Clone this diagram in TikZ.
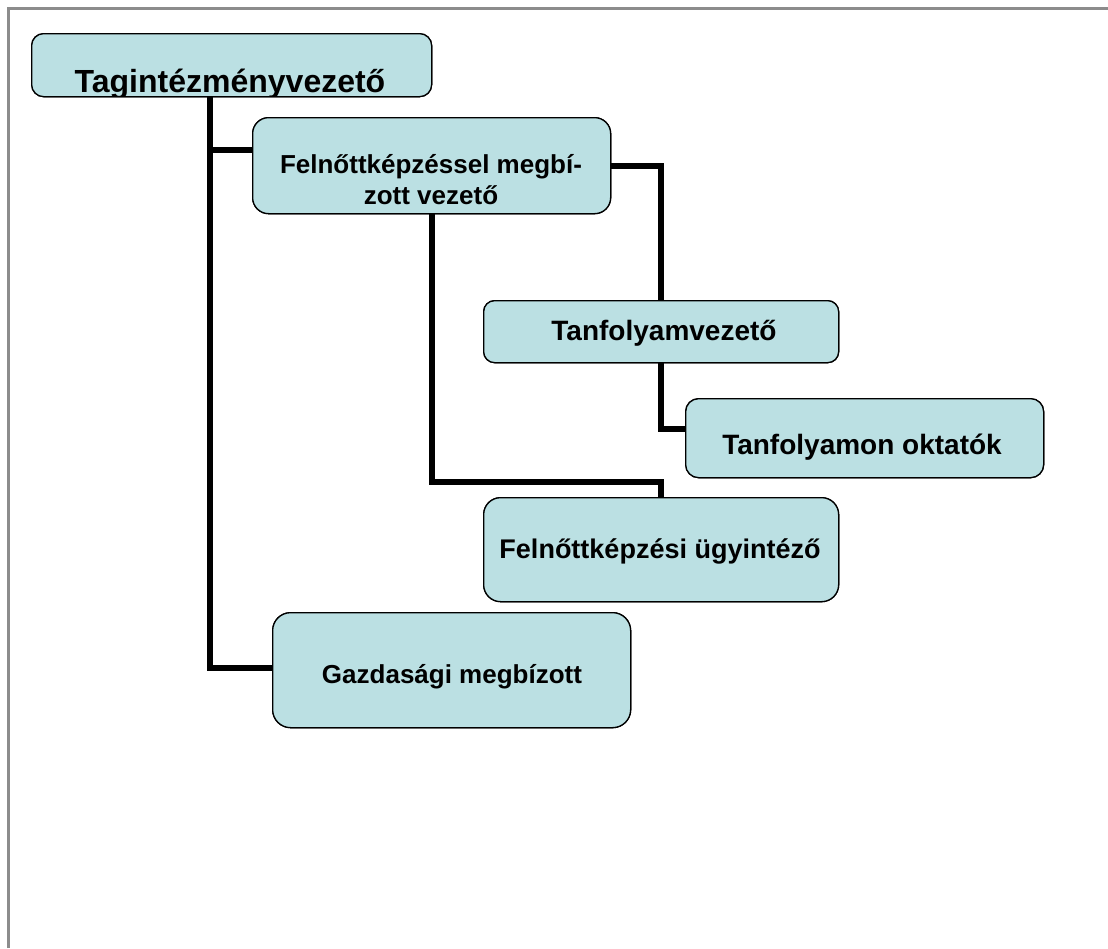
\documentclass[tikz,border=0pt]{standalone}
\usepackage{fontspec}
\setmainfont{Liberation Sans}
\definecolor{boxfill}{RGB}{187,224,227}
\definecolor{framegray}{RGB}{140,140,140}
\begin{document}
\begin{tikzpicture}[x=1pt,y=-1pt,
  box/.style={draw=black,fill=boxfill,line width=1.3pt,inner sep=0pt,anchor=north west},
  conn/.style={draw=black,line width=6pt,line join=miter,line cap=butt},
  lbl/.style={font=\bfseries\fontsize{26}{34}\selectfont,anchor=base,inner sep=0pt},
  lblb/.style={font=\bfseries\fontsize{28}{34}\selectfont,anchor=base,inner sep=0pt}]
\useasboundingbox (0,0) rectangle (1108,948);
\fill[white] (0,0) rectangle (1108,948);
% frame
\coordinate (fa) at (8,948);
\coordinate (fb) at (8,8.7);
\coordinate (fc) at (1108,8.7);
\draw[framegray,line width=3pt] (fa) -- (fb) -- (fc);
% helper coordinates
\coordinate (t) at (210,0);
\coordinate (y150) at (0,150);
\coordinate (y482) at (0,482);
\coordinate (y429) at (0,429);
\coordinate (y668) at (0,668);
% boxes
\path (31,33) node[box,minimum width=400,minimum height=63,rounded corners=12pt] (b1) {};
\path (252,117) node[box,minimum width=358,minimum height=96,rounded corners=16pt] (b2) {};
\path (483,300) node[box,minimum width=355,minimum height=62,rounded corners=11pt] (b3) {};
\path (685,398) node[box,minimum width=358,minimum height=79,rounded corners=13pt] (b4) {};
\path (483,497) node[box,minimum width=355,minimum height=104,rounded corners=17pt] (b5) {};
\path (272,612) node[box,minimum width=358,minimum height=115,rounded corners=18pt] (b6) {};
% connectors
\draw[conn] (t |- b1.south) -- (t |- y668) -- (b6.west |- y668);
\draw[conn] (t |- y150) -- (b2.west |- y150);
\draw[conn] (b2.east) -| (b3.north);
\draw[conn] (b2.south) -- (b2.south |- y482) -| (b5.north);
\draw[conn] (b3.south) -- (b3.south |- y429) -- (b4.west |- y429);
% redraw boxes on top of connector ends
\path (31,33) node[box,minimum width=400,minimum height=63,rounded corners=12pt] {};
\path (252,117) node[box,minimum width=358,minimum height=96,rounded corners=16pt] {};
\path (483,300) node[box,minimum width=355,minimum height=62,rounded corners=11pt] {};
\path (685,398) node[box,minimum width=358,minimum height=79,rounded corners=13pt] {};
\path (483,497) node[box,minimum width=355,minimum height=104,rounded corners=17pt] {};
\path (272,612) node[box,minimum width=358,minimum height=115,rounded corners=18pt] {};
% texts
\begin{scope}
\clip (31,33) rectangle (431,95.5);
\node[anchor=base,inner sep=0pt,font=\bfseries\fontsize{32}{36}\selectfont] (t1) at (230,92) {Tagintézményvezető};
\end{scope}
\node[lbl] (t2a) at (431,173) {Felnőttképzéssel megbí-};
\node[lbl] (t2b) at (431,204) {zott vezető};
\node[lblb] (t3) at (664,340) {Tanfolyamvezető};
\node[lblb] (t4) at (862,454) {Tanfolyamon oktatók};
\node[lbl,font=\bfseries\fontsize{27}{34}\selectfont] (t5) at (660,558) {Felnőttképzési ügyintéző};
\node[lbl] (t6) at (452,683) {Gazdasági megbízott};
\end{tikzpicture}
\end{document}
